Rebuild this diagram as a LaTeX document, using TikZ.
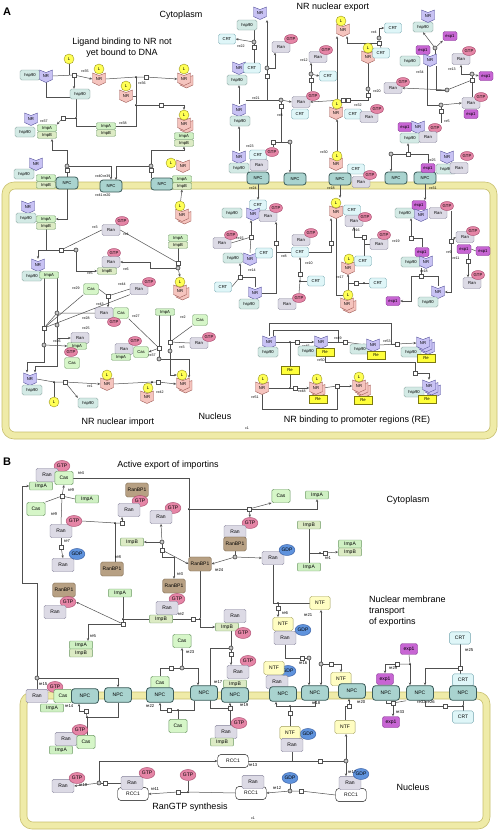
\documentclass[tikz,border=0pt]{standalone}
\usepackage{fontspec}
\setmainfont{Liberation Sans}
\usetikzlibrary{arrows.meta,shapes.geometric,calc}
\definecolor{hspF}{HTML}{D3EAE5}\definecolor{hspD}{HTML}{7E9C98}
\definecolor{ranF}{HTML}{DCDAE5}\definecolor{ranD}{HTML}{85839A}
\definecolor{gtpF}{HTML}{E585A6}\definecolor{gtpD}{HTML}{A8466A}
\definecolor{gdpF}{HTML}{5F93DD}\definecolor{gdpD}{HTML}{2F569E}
\definecolor{crtF}{HTML}{DFF6F8}\definecolor{crtD}{HTML}{6FA3AD}
\definecolor{impF}{HTML}{CFF0C3}\definecolor{impD}{HTML}{6E9A66}
\definecolor{impbF}{HTML}{DCEBC4}
\definecolor{casF}{HTML}{D6F6C8}\definecolor{casD}{HTML}{6E9A66}
\definecolor{npcF}{HTML}{A9D3CF}\definecolor{npcD}{HTML}{3C5C5A}
\definecolor{expF}{HTML}{C765D3}\definecolor{expD}{HTML}{7D2E8C}
\definecolor{ntfF}{HTML}{FFFDC2}\definecolor{ntfD}{HTML}{A09F5C}
\definecolor{rbpF}{HTML}{B7A083}\definecolor{rbpD}{HTML}{6F5A40}
\definecolor{reF}{HTML}{FFFF3A}\definecolor{reD}{HTML}{7D7A10}
\definecolor{ligF}{HTML}{FFFF55}\definecolor{ligD}{HTML}{9A9420}
\definecolor{nrlavF}{HTML}{C8C2F4}\definecolor{nrlavD}{HTML}{55529A}
\definecolor{nrpinkF}{HTML}{F5C4BE}\definecolor{nrpinkD}{HTML}{9E5A55}
\definecolor{memF}{HTML}{EFEBA8}\definecolor{memD}{HTML}{C8BF6C}
\definecolor{edC}{HTML}{505050}
\def\sfac{1}\def\nfs{4.2}\def\lfs{3.6}
\tikzset{
 sp/.style={draw, rounded corners=1.6pt, inner sep=0pt, line width=0.4pt, font=\fontsize{\nfs}{\nfs}\selectfont},
 hsp/.style={sp, fill=hspF, draw=hspD, minimum width=20pt*\sfac, minimum height=10pt*\sfac},
 ran/.style={sp, fill=ranF, draw=ranD, minimum width=18pt*\sfac, minimum height=11pt*\sfac},
 gtp/.style={sp, ellipse, fill=gtpF, draw=gtpD, minimum width=13pt*\sfac, minimum height=9pt*\sfac},
 gdp/.style={sp, ellipse, fill=gdpF, draw=gdpD, minimum width=13pt*\sfac, minimum height=9pt*\sfac},
 crt/.style={sp, fill=crtF, draw=crtD, minimum width=17pt*\sfac, minimum height=10pt*\sfac},
 imp/.style={sp, fill=impF, draw=impD, rounded corners=1pt, minimum width=19pt*\sfac, minimum height=6.5pt*\sfac},
 impb/.style={imp, fill=impbF},
 cas/.style={sp, fill=casF, draw=casD, minimum width=15pt*\sfac, minimum height=11pt*\sfac},
 npc/.style={sp, fill=npcF, draw=npcD, line width=0.8pt, rounded corners=3pt, minimum width=22pt*\sfac, minimum height=12pt*\sfac},
 exp/.style={sp, fill=expF, draw=expD, minimum width=14pt*\sfac, minimum height=9pt*\sfac},
 ntf/.style={sp, fill=ntfF, draw=ntfD, minimum width=16.5pt*\sfac, minimum height=11pt*\sfac},
 rcc/.style={sp, fill=white, draw=black, rounded corners=3pt, minimum width=25pt*\sfac, minimum height=10.5pt*\sfac},
 rbp/.style={sp, fill=rbpF, draw=rbpD, minimum width=18.5pt*\sfac, minimum height=11.5pt*\sfac},
 re/.style={sp, rounded corners=0pt, fill=reF, draw=reD, minimum width=18pt, minimum height=8pt},
 lig/.style={sp, circle, fill=ligF, draw=ligD, minimum size=10pt},
 nrt/.style={inner sep=0pt, minimum width=13pt, minimum height=12pt, font=\fontsize{\nfs}{\nfs}\selectfont},
 nrstyle/.style={fill=nr#1F, draw=nr#1D, line width=0.4pt},
 pb/.style={draw=edC, fill=white, minimum size=3.6pt, inner sep=0pt, line width=0.4pt},
 pc/.style={circle, draw=edC!80!black, fill=gray!45, minimum size=4pt, inner sep=0pt, line width=0.6pt},
 pd/.style={circle, fill=black, minimum size=2pt, inner sep=0pt},
 lab/.style={inner sep=0pt, font=\fontsize{\lfs}{\lfs}\selectfont},
 head/.style={inner sep=0pt, font=\fontsize{9}{11}\selectfont, align=center},
 ed/.style={draw=edC, line width=0.5pt},
 ar/.style={ed, -{Stealth[length=2.8pt,width=2.4pt]}},
}
\newcommand\NRs[4]{\filldraw[nrstyle=#4,shift={(#2,#3)}] (-6.5,-6)--(0,-3.5)--(6.5,-6)--(6.5,3.5)--(0,6.5)--(-6.5,3.5)--cycle; \node[nrt] (#1) at (#2,#3) {NR};}
\newcommand\NRd[4]{\filldraw[nrstyle=#4,shift={(#2+2.5,#3+2.5)}] (-6.5,-6)--(0,-3.5)--(6.5,-6)--(6.5,3.5)--(0,6.5)--(-6.5,3.5)--cycle; \NRs{#1}{#2}{#3}{#4}}
\newcommand\NRt[4]{\filldraw[nrstyle=#4,shift={(#2+5,#3+5)}] (-6.5,-6)--(0,-3.5)--(6.5,-6)--(6.5,3.5)--(0,6.5)--(-6.5,3.5)--cycle; \NRd{#1}{#2}{#3}{#4}}
\newcommand\lb[3]{\node[lab] (lb#1) at (#2) {#3};}
\pgfdeclarelayer{mem}\pgfdeclarelayer{bg}\pgfsetlayers{mem,bg,main}
\begin{document}
\begin{tikzpicture}[x=1pt,y=-1pt]
\useasboundingbox (0,0) rectangle (498,831);
\begin{pgfonlayer}{mem}
\fill[white] (0,0) rectangle (498,831);
\draw[memF, line width=7pt, rounded corners=9pt] (5.5,185.5) rectangle (493.5,435.5);
\draw[memD, line width=0.6pt, rounded corners=12pt] (2,182) rectangle (497,439);
\draw[memD, line width=0.6pt, rounded corners=6pt] (9,189) rectangle (490,432);
\draw[memF, line width=7pt, rounded corners=9pt] (23.5,695.5) rectangle (486.5,825.5);
\draw[memD, line width=0.6pt, rounded corners=12pt] (20,692) rectangle (490,829);
\draw[memD, line width=0.6pt, rounded corners=6pt] (27,699) rectangle (483,822);
\end{pgfonlayer}
% ---------------- headings
\node[font=\bfseries\fontsize{11}{11}\selectfont, inner sep=0pt] (tA) at (7,12) {A};
\node[head] (t1) at (181,15) {Cytoplasm};
\node[head] (t2) at (122,48) {Ligand binding to NR not\\yet bound to DNA};
\node[head] (t3) at (333,7) {NR nuclear export};
\node[head] (t4) at (215,416) {Nucleus};
\node[head] (t5) at (118,422) {NR nuclear import};
\node[head] (t6) at (357,420) {NR binding to promoter regions (RE)};
\node[lab] (t7) at (247,428) {c1};
\node[font=\bfseries\fontsize{11}{11}\selectfont, inner sep=0pt] (tB) at (7,462) {B};
\node[head] (t8) at (168,465) {Active export of importins};
\node[head] (t9) at (408,500) {Cytoplasm};
\node[head, align=left, anchor=north west] (t10) at (369,596) {Nuclear membrane\\transport\\of exportins};
\node[head] (t11) at (413,787) {Nucleus};
\node[head] (t12) at (190,807) {RanGTP synthesis};
\node[lab] (t13) at (253,818) {c1};
% ================= PANEL A cytoplasm left
\node[hsp] (a1h) at (30,75) {hsp90};
\NRs{a1n}{46}{76}{lav}
\node[lig] (a1l) at (69,59) {L};
\node[pb] (p35) at (74,75) {}; \lb{1}{85,71}{re35}
\node[hsp] (a2h) at (80,94) {hsp90};
\NRs{a2n}{99}{79}{pink} \node[lig] (a2l) at (99,69) {L};
\NRs{a3n}{126}{96}{pink} \node[lig] (a3l) at (126,86) {L};
\lb{2}{142,83}{re36}
\node[pd] (d36) at (136,77) {}; \node[pb] (p36) at (146,77) {};
\NRd{a4n}{184}{79}{pink} \node[lig] (a4l) at (184,69) {L};
\NRs{r1n}{31}{119}{lav}
\node[hsp] (r1h) at (25,132) {hsp90}; \node[imp] (r1a) at (47,128) {ImpA}; \node[impb] (r1b) at (47,135) {ImpB};
\lb{3}{44,121}{re37}
\node[pb] (p37) at (63,118) {}; \node[pd] (d37) at (76,118) {};
\node[imp] (r2a) at (106,126) {ImpA}; \node[impb] (r2b) at (106,133) {ImpB};
\lb{4}{123,123}{re38}
\node[pd] (d38) at (136,105) {}; \node[pb] (p38) at (161,105) {};
\NRd{r3n}{184}{124}{pink} \node[lig] (r3l) at (184,115) {L};
\node[imp] (r3a) at (184,136) {ImpA}; \node[impb] (r3b) at (184,143) {ImpB};
% membrane row A
\NRs{s1n}{36}{164}{lav}
\node[hsp] (s1h) at (24,174) {hsp90}; \node[imp] (s1a) at (46,178) {ImpA}; \node[impb] (s1b) at (46,185) {ImpB};
\node[npc] (npc1) at (67,183) {NPC};
\node[npc] (npc2) at (111,186) {NPC};
\lb{5}{103,176}{re40\,re39} \lb{6}{103,195}{re41\,re20}
\node[npc] (npc3) at (162,184) {NPC};
\NRs{s3n}{183}{166}{pink} \node[lig] (s3l) at (171,163) {L};
\node[imp] (s3a) at (182,179) {ImpA}; \node[impb] (s3b) at (182,186) {ImpB};
\node[pc] (c40) at (67,166) {}; \node[pb] (b40) at (67,170) {};
\node[pc] (c31) at (151,166) {}; \node[pb] (b31) at (151,170) {};
% ================= PANEL A cytoplasm right
\node[hsp] (e1h) at (247,25) {hsp90}; \NRs{e1n}{260}{13}{lav}
\node[crt] (e2c) at (227,39) {CRT}; \lb{7}{241,46}{re22}
\node[pc] (c22) at (254,42) {}; \node[pb] (b22) at (254,47) {};
\NRs{e3n}{239}{68}{lav} \node[crt] (e3c) at (252,68) {CRT}; \node[hsp] (e3h) at (237,80) {hsp90};
\NRs{e4n}{239}{110}{lav} \node[hsp] (e4h) at (240,121) {hsp90};
\node[ran] (e5r) at (281,47) {Ran}; \node[gtp] (e5g) at (291,39) {GTP};
\node[pc] (c21) at (267,68) {}; \node[pb] (b21) at (267,76) {};
\lb{8}{256,98}{re21}
\NRs{e6n}{239}{157}{lav} \node[hsp] (e6h) at (239,168) {hsp90};
\node[crt] (e6c) at (258,155) {CRT}; \node[ran] (e6r) at (259,165) {Ran}; \node[gtp] (e6g) at (272,152) {GTP};
\lb{9}{250,146}{re23}
\node[npc] (npc4) at (258,178) {NPC}; \lb{10}{253,188}{re24}
\node[npc] (npc5) at (295,179) {NPC};
\node[ran] (e7r) at (318,57) {Ran}; \node[gtp] (e7g) at (326,50) {GTP}; \lb{11}{304,60}{re12}
\node[pc] (c12) at (311,74) {}; \node[pb] (b12) at (311,80) {};
\node[crt] (e8c) at (328,76) {CRT};
\node[ran] (e9r) at (301,102) {Ran}; \node[gtp] (e9g) at (313,96) {GTP}; \node[crt] (e9c) at (300,114) {CRT};
\lb{12}{280,115}{re8} \node[pc] (c8) at (281,100) {}; \node[pb] (b8) at (281,106) {};
\node[pc] (c24b) at (290,142) {}; \node[pb] (b24b) at (273,142) {};
\NRs{e10n}{336}{113}{pink} \node[lig] (e10l) at (337,104) {L};
\node[crt] (e10c) at (353,114) {CRT}; \node[ran] (e10r) at (369,117) {Ran}; \node[gtp] (e10g) at (377,109) {GTP};
\lb{13}{358,105}{re32}
\node[pb] (b32) at (343,100) {}; \node[pb] (b32b) at (348,100) {};
\NRs{e11n}{343}{30}{pink} \node[lig] (e11l) at (341,21) {L};
\node[crt] (e12c) at (393,28) {CRT}; \lb{14}{374,32}{re4}
\node[pc] (c4) at (379,38) {}; \node[pb] (b4) at (379,43) {};
\NRs{e13n}{368}{57}{pink} \node[lig] (e13l) at (368,48) {L}; \node[crt] (e13c) at (381,53) {CRT};
\node[ran] (e14r) at (393,88) {Ran}; \node[gtp] (e14g) at (403,82) {GTP}; \lb{15}{377,91}{re20}
\node[pc] (c20) at (368,89) {}; \node[pb] (b20) at (368,95) {};
\NRs{e15n}{336}{164}{pink} \node[lig] (e15l) at (337,156) {L}; \node[crt] (e15c) at (356,169) {CRT};
\node[npc] (npc6) at (340,179) {NPC}; \node[ran] (e15r) at (361,182) {Ran}; \node[gtp] (e15g) at (370,175) {GTP};
\lb{16}{324,152}{re30} \lb{17}{331,188}{re18}
\node[hsp] (e16h) at (423,27) {hsp90}; \NRs{e16n}{428}{16}{lav}
\node[exp] (e17e) at (450,36) {exp1};
\node[pc] (c34) at (435,48) {};
\node[hsp] (e18h) at (410,61) {hsp90}; \node[exp] (e18e) at (423,50) {exp1}; \NRs{e18n}{430}{60}{lav}
\lb{18}{420,72}{re34}
\node[ran] (e19r) at (461,59) {Ran}; \node[gtp] (e19g) at (469,51) {GTP}; \lb{19}{452,69}{re13}
\node[exp] (e20e) at (486,76) {exp1};
\node[pc] (c13) at (472,74) {}; \node[pb] (b13) at (472,80) {};
\node[ran] (e21r) at (471,103) {Ran}; \node[gtp] (e21g) at (481,97) {GTP}; \node[exp] (e21e) at (471,114) {exp1};
\node[pc] (c5a) at (447,90) {}; \node[pc] (c5) at (441,105) {}; \node[pb] (b5) at (441,111) {}; \lb{20}{447,121}{re5}
\node[exp] (e22e) at (405,127) {exp1}; \NRs{e22n}{418}{127}{lav} \node[gtp] (e22g) at (435,128) {GTP};
\node[hsp] (e22h) at (410,138) {hsp90}; \node[ran] (e22r) at (428,137) {Ran};
\node[pc] (c25) at (391,154) {}; \node[pb] (b25) at (408,154) {};
\node[npc] (npc7) at (396,178) {NPC}; \node[npc] (npc8) at (425,178) {NPC};
\NRs{e23n}{447}{157}{lav} \node[gtp] (e23g) at (467,156) {GTP};
\node[exp] (e23e) at (428,168) {exp1}; \node[hsp] (e23h) at (446,169) {hsp90}; \node[ran] (e23r) at (459,168) {Ran};
\lb{21}{432,160}{re25} \lb{22}{433,188}{re31}
% ================= PANEL A nucleus left
\NRs{f1n}{28}{207}{lav} \node[hsp] (f1h) at (26,218) {hsp90}; \node[imp] (f1a) at (46,219) {ImpA}; \node[impb] (f1b) at (46,226) {ImpB};
\NRd{f2n}{182}{215}{pink} \node[lig] (f2l) at (180,206) {L};
\node[ran] (f3r) at (111,230) {Ran}; \node[gtp] (f3g) at (122,221) {GTP}; \lb{23}{95,227}{re3} \lb{24}{126,234}{re4}
\node[pb] (bx3) at (61,250) {}; \node[pc] (cx3) at (76,250) {};
\node[imp] (f4a) at (178,238) {ImpA}; \node[impb] (f4b) at (178,245) {ImpB};
\node[gtp] (f5g) at (114,253) {GTP}; \node[ran] (f5r) at (111,262) {Ran}; \node[impb] (f5b) at (107,271) {ImpB};
\lb{25}{90,273}{re5} \lb{26}{126,269}{re6}
\node[pb] (bx4) at (178,263) {}; \node[pc] (cx4) at (178,268) {};
\NRd{f6n}{180}{291}{pink} \node[lig] (f6l) at (180,282) {L};
\NRs{f7n}{38}{265}{lav} \node[hsp] (f7h) at (32,276) {hsp90}; \node[imp] (f7a) at (49,275) {ImpA};
\lb{27}{76,288}{re29} \node[cas] (f8c) at (91,289) {Cas};
\node[ran] (f9r) at (139,289) {Ran}; \node[gtp] (f9g) at (149,282) {GTP}; \lb{28}{122,284}{re44}
\node[pb] (b43) at (108,296) {}; \lb{29}{100,304}{re43}
\node[ran] (f10r) at (104,313) {Ran}; \node[cas] (f10c) at (121,313) {Cas}; \node[gtp] (f10g) at (114,322) {GTP};
\lb{30}{86,318}{re28} \lb{31}{136,316}{re27}
\node[pc] (c28) at (57,313) {}; \node[pb] (b28) at (44,328) {}; \node[pc] (c25n) at (57,325) {}; \lb{32}{86,328}{re25}
\node[ran] (f11r) at (80,338) {Ran}; \node[imp] (f11a) at (77,346) {ImpA}; \node[gtp] (f11g) at (71,352) {GTP}; \node[cas] (f11c) at (72,363) {Cas};
\lb{33}{57,341}{re26}
\node[pc] (c26) at (44,345) {};
\node[imp] (f12a) at (165,312) {ImpA}; \lb{34}{183,317}{re2} \node[cas] (f13c) at (200,320) {Cas};
\node[ran] (f14r) at (199,343) {Ran}; \node[gtp] (f14g) at (209,337) {GTP}; \lb{35}{182,347}{re3}
\node[pb] (bx2) at (170,342) {}; \node[pc] (cx2) at (170,351) {};
\node[ran] (f15r) at (124,349) {Ran}; \node[gtp] (f15g) at (135,341) {GTP}; \node[cas] (f15c) at (141,352) {Cas}; \node[imp] (f15a) at (121,357) {ImpA};
\node[pb] (b27) at (159,348) {}; \node[pc] (c27) at (159,359) {}; \lb{36}{152,355}{re37}
\NRs{f16n}{30}{379}{lav} \node[hsp] (f16h) at (32,390) {hsp90};
\node[lig] (f17l) at (54,402) {L}; \node[hsp] (f18h) at (88,403) {hsp90};
\node[pd] (d1) at (54,382) {}; \node[pb] (bx1) at (65,382) {}; \lb{37}{90,386}{re1}
\NRs{f19n}{107}{384}{pink} \node[lig] (f19l) at (107,375) {L};
\node[pd] (d42) at (152,382) {}; \node[pb] (b42) at (158,382) {};
\NRs{f20n}{147}{397}{pink} \node[lig] (f20l) at (148,388) {L}; \lb{38}{160,392}{re42}
\NRd{f21n}{183}{384}{pink} \node[lig] (f21l) at (182,375) {L};
% ================= PANEL A nucleus right
\node[hsp] (g1h) at (232,213) {hsp90}; \node[crt] (g1c) at (258,205) {CRT}; \NRs{g1n}{253}{214}{lav}
\node[ran] (g1r) at (268,216) {Ran}; \node[gtp] (g1g) at (276,208) {GTP};
\node[ran] (g2r) at (222,243) {Ran}; \node[gtp] (g2g) at (231,235) {GTP}; \lb{39}{240,238}{re15}
\node[pb] (b15) at (251,237) {};
\node[hsp] (g3h) at (233,258) {hsp90}; \NRs{g3n}{250}{259}{lav} \node[crt] (g3c) at (264,253) {CRT}; \lb{40}{252,270}{re14}
\node[crt] (g4c) at (223,287) {CRT}; \node[pb] (b14) at (240,277) {};
\NRs{g5n}{255}{293}{lav} \node[hsp] (g5h) at (249,304) {hsp90};
\node[pb] (b9) at (276,243) {};
\node[ran] (g6r) at (301,240) {Ran}; \node[gtp] (g6g) at (311,233) {GTP}; \node[crt] (g6c) at (300,252) {CRT}; \lb{41}{284,256}{re8}
\lb{42}{309,263}{re10} \node[pb] (b10) at (300,274) {}; \node[pd] (d10) at (300,281) {}; \node[crt] (g7c) at (316,281) {CRT};
\node[ran] (g8r) at (287,304) {Ran}; \node[gtp] (g8g) at (299,298) {GTP};
\NRs{g9n}{336}{212}{pink} \node[lig] (g9l) at (336,203) {L}; \node[crt] (g9c) at (352,210) {CRT};
\node[ran] (g9r) at (354,221) {Ran}; \node[gtp] (g9g) at (365,217) {GTP};
\node[pb] (b30) at (331,243) {};
\lb{43}{356,230}{re16} \node[pb] (b16) at (364,237) {};
\node[ran] (g10r) at (379,244) {Ran}; \node[gtp] (g10g) at (384,235) {GTP}; \lb{44}{396,241}{re19}
\NRs{g11n}{348}{268}{pink} \node[lig] (g11l) at (349,259) {L}; \node[crt] (g11c) at (363,261) {CRT}; \lb{45}{340,277}{re17}
\node[pb] (b17) at (356,283) {}; \node[pd] (d17) at (364,283) {}; \node[crt] (g12c) at (378,283) {CRT};
\NRd{g13n}{347}{304}{pink} \node[lig] (g13l) at (348,295) {L};
\node[hsp] (g14h) at (405,213) {hsp90}; \node[exp] (g14e) at (419,205) {exp1}; \NRs{g14n}{421}{215}{lav}
\node[ran] (g14r) at (438,213) {Ran}; \node[gtp] (g14g) at (447,206) {GTP};
\node[pb] (b18a) at (411,238) {};
\node[hsp] (g15h) at (411,262) {hsp90}; \node[exp] (g15e) at (422,252) {exp1}; \NRs{g15n}{426}{262}{lav} \lb{46}{424,271}{re18}
\node[pb] (b18) at (421,276) {};
\NRs{g16n}{438}{292}{lav} \node[hsp] (g16h) at (428,302) {hsp90};
\node[exp] (g17e) at (393,301) {exp1};
\node[ran] (g18r) at (465,237) {Ran}; \node[gtp] (g18g) at (473,231) {GTP}; \node[exp] (g18e) at (464,249) {exp1}; \node[exp] (g19e) at (483,251) {exp1};
\lb{47}{449,252}{re9} \lb{48}{456,258}{re11}
\node[pb] (b9r) at (451,241) {}; \node[pb] (b11) at (468,261) {};
\node[ran] (g20r) at (472,283) {Ran}; \node[gtp] (g20g) at (478,275) {GTP};
% RE section
\NRs{h1n}{269}{342}{lav} \node[hsp] (h1h) at (268,352) {hsp90};
\node[pd] (d45) at (290,342) {}; \node[pb] (b45) at (297,342) {}; \lb{49}{306,346}{re45}
\node[hsp] (h2h) at (308,351) {hsp90}; \NRs{h2n}{321}{342}{lav} \node[re] (h2e) at (325,352) {Re};
\lb{50}{338,338}{re49} \lb{51}{321,360}{re50}
\node[pb] (b49) at (345,342) {};
\node[hsp] (h3h) at (360,349) {hsp90}; \NRs{h3n}{373}{345}{lav} \node[re] (h3e) at (376,355) {Re}; \lb{52}{387,341}{re53}
\node[pb] (b53) at (397,344) {};
\node[hsp] (h4h) at (411,352) {hsp90}; \NRt{h4n}{423}{343}{lav} \node[re] (h4e) at (426,358) {Re};
\node[re] (h5e) at (290,370) {Re};
\node[pb] (b50) at (415,373) {};
\node[hsp] (h6h) at (414,392) {hsp90}; \NRt{h6n}{429}{386}{lav} \node[re] (h6e) at (427,399) {Re};
\NRs{h7n}{262}{388}{pink} \node[lig] (h7l) at (263,379) {L}; \lb{53}{255,397}{re51}
\node[pd] (d48) at (290,388) {}; \node[pb] (b48) at (295,388) {}; \lb{54}{302,391}{re48}
\NRd{h8n}{316}{388}{pink} \node[lig] (h8l) at (317,379) {L}; \node[re] (h8e) at (318,399) {Re};
\node[pb] (b52) at (337,386) {};
\NRt{h9n}{359}{386}{pink} \node[lig] (h9l) at (359,377) {L}; \node[re] (h9e) at (363,400) {Re};
% ================= PANEL B
\def\sfac{1.22}\def\nfs{5}\def\lfs{4.2}
\node[gtp] (k1g) at (62,466) {GTP}; \node[ran] (k1r) at (47,475) {Ran}; \node[cas] (k1c) at (64,478) {Cas}; \node[imp] (k1a) at (41,486) {ImpA};
\lb{55}{81,473}{re4}
\node[pb] (b9b) at (62,496) {}; \lb{56}{71,490}{re9}
\node[imp] (k2a) at (87,499) {ImpA}; \node[cas] (k3c) at (36,509) {Cas}; \lb{57}{54,514}{re9}
\node[ran] (k4r) at (61,531) {Ran}; \node[gtp] (k4g) at (74,521) {GTP}; \lb{58}{67,541}{re7} \node[pb] (b7) at (61,547) {};
\node[ran] (k5r) at (63,565) {Ran}; \node[gdp] (k5g) at (77,554) {GDP};
\node[rbp] (k6b) at (137,490) {RanBP1}; \node[gtp] (k6g) at (140,501) {GTP}; \node[ran] (k6r) at (129,510) {Ran};
\node[pd] (d8) at (115,523) {}; \node[pb] (b8b) at (122,523) {}; \lb{59}{118,557}{re8}
\node[rbp] (k7b) at (112,569) {RanBP1};
\node[gtp] (k8g) at (173,508) {GTP}; \node[ran] (k8r) at (161,517) {Ran};
\node[pc] (c3b) at (162,542) {}; \node[pb] (b3b) at (162,550) {};
\node[impb] (k9b) at (132,542) {ImpB};
\node[rbp] (k10b) at (200,564) {RanBP1}; \lb{60}{219,570}{re24}
\node[gtp] (k11g) at (250,523) {GTP}; \node[ran] (k11r) at (235,532) {Ran}; \node[rbp] (k11b) at (235,544) {RanBP1};
\node[pc] (c24) at (235,557) {};
\node[ran] (k12r) at (273,558) {Ran}; \node[gdp] (k12g) at (287,550) {GDP};
\node[pd] (d4) at (189,509) {}; \node[pb] (b4b) at (249,509) {};
\node[cas] (k13c) at (281,496) {Cas}; \node[imp] (k13a) at (317,495) {ImpA};
\node[impb] (k14b) at (309,525) {ImpB}; \node[imp] (k15a) at (350,544) {ImpA}; \node[impb] (k15b) at (350,552) {ImpB}; \node[imp] (k16a) at (309,567) {ImpA};
\node[pd] (d1b) at (320,553) {}; \node[pb] (b1b) at (325,553) {}; \lb{61}{328,558}{re1}
\lb{62}{180,574}{re3}
\node[rbp] (k17b) at (174,586) {RanBP1}; \node[gtp] (k17g) at (177,599) {GTP}; \node[ran] (k17r) at (167,608) {Ran}; \node[impb] (k17i) at (161,619) {ImpB};
\lb{63}{181,614}{re2}
\node[rbp] (k18b) at (64,590) {RanBP1}; \node[gtp] (k18g) at (68,602) {GTP}; \node[ran] (k18r) at (55,612) {Ran};
\node[imp] (k19a) at (120,593) {ImpA};
\node[pd] (d5) at (123,619) {}; \node[pb] (b5b) at (123,624) {};
\node[imp] (k20a) at (81,645) {ImpA}; \node[impb] (k20b) at (81,653) {ImpB}; \lb{64}{93,636}{re5}
\node[pb] (b2b) at (193,619) {}; \node[pd] (d2) at (200,619) {};
\node[ran] (k21r) at (235,616) {Ran}; \node[impb] (k21i) at (227,627) {ImpB}; \node[gtp] (k21g) at (243,633) {GTP};
\node[pc] (c17) at (231,648) {}; \node[pb] (b17b) at (231,654) {};
\node[cas] (k22c) at (182,641) {Cas}; \lb{65}{190,652}{re23} \node[pc] (c23) at (182,668) {}; \node[pb] (b23) at (171,668) {};
\node[gtp] (k23g) at (248,661) {GTP}; \node[ran] (k23r) at (238,672) {Ran}; \node[impb] (k23i) at (235,684) {ImpB};
\node[npc] (npcB5) at (235,695) {NPC}; \lb{66}{218,682}{re17} \lb{67}{244,705}{re19}
\node[pb] (b19) at (230,708) {};
\node[ran] (k24r) at (226,732) {Ran}; \node[gtp] (k24g) at (239,723) {GTP}; \node[impb] (k24i) at (222,742) {ImpB};
\node[cas] (k25c) at (160,683) {Cas}; \node[npc] (npcB3) at (160,695) {NPC}; \lb{68}{150,706}{re22}
\node[pb] (b22b) at (169,710) {}; \node[pd] (d22) at (178,710) {}; \node[cas] (k26c) at (178,726) {Cas};
\node[npc] (npcB4) at (204,693) {NPC};
\node[ran] (k27r) at (37,696) {Ran}; \node[gtp] (k27g) at (55,687) {GTP}; \node[cas] (k27c) at (63,696) {Cas}; \node[imp] (k27a) at (52,708) {ImpA};
\node[npc] (npcB1) at (85,696) {NPC}; \lb{69}{43,684}{re15} \lb{70}{69,706}{re14}
\node[pc] (c15) at (37,678) {};
\node[npc] (npcB2) at (118,695) {NPC};
\node[pb] (b14b) at (86,711) {}; \node[pd] (d14) at (87,717) {};
\node[ran] (k28r) at (66,739) {Ran}; \node[gtp] (k28g) at (80,730) {GTP}; \node[cas] (k28c) at (86,742) {Cas}; \node[imp] (k28a) at (61,750) {ImpA};
% RCC1
\node[rcc] (m1) at (233,761) {RCC1};
\node[pc] (c10) at (99,783) {}; \node[pb] (b10b) at (105,783) {}; \lb{71}{83,785}{re10}
\node[ran] (m2r) at (63,786) {Ran}; \node[gtp] (m2g) at (77,778) {GTP};
\node[rcc] (m3c) at (133,794) {RCC1}; \node[ran] (m3r) at (132,783) {Ran}; \node[gtp] (m3g) at (147,773) {GTP}; \lb{72}{155,789}{re11}
\node[pb] (b11b) at (178,792) {}; \node[pd] (d11) at (188,792) {}; \node[gtp] (m4g) at (188,775) {GTP};
\node[rcc] (m5c) at (251,793) {RCC1}; \node[ran] (m5r) at (253,782) {Ran};
\lb{73}{253,765}{re13} \node[pb] (b13b) at (320,761) {}; \node[pc] (c13b) at (346,761) {};
\node[gdp] (m6g) at (290,778) {GDP}; \node[pc] (c12b) at (290,791) {}; \node[pb] (b12b) at (301,791) {}; \lb{74}{277,788}{re12}
\node[rcc] (m7c) at (351,795) {RCC1}; \node[ran] (m7r) at (350,783) {Ran}; \node[gdp] (m7g) at (361,774) {GDP}; \lb{75}{352,772}{re17}
% NTF
\node[gdp] (n1g) at (303,630) {GDP}; \node[ntf] (n1) at (283,624) {NTF}; \node[ran] (n1r) at (285,638) {Ran};
\node[pd] (d6) at (278,603) {}; \node[pb] (b6) at (278,608) {}; \lb{76}{285,613}{re6}
\node[ntf] (n2) at (320,603) {NTF}; \lb{77}{308,615}{re21}
\node[pb] (b16b) at (302,658) {}; \node[pc] (c16) at (309,658) {}; \lb{78}{303,663}{re16}
\node[gdp] (n3g) at (288,671) {GDP}; \node[ntf] (n3) at (274,668) {NTF}; \node[ran] (n3r) at (277,682) {Ran};
\node[npc] (npcB6) at (283,694) {NPC};
\node[pc] (c21b) at (321,664) {}; \node[pb] (b21b) at (331,664) {};
\node[npc] (npcB7) at (315,693) {NPC}; \lb{79}{316,703}{re18}
\node[ntf] (n4) at (341,679) {NTF}; \node[npc] (npcB8) at (352,691) {NPC}; \lb{80}{361,702}{re20}
\node[pb] (b20b) at (349,706) {};
\node[pd] (d18) at (290,706) {}; \node[pb] (b18b) at (290,713) {};
\node[gdp] (n5g) at (308,734) {GDP}; \node[ntf] (n5) at (290,733) {NTF}; \node[ran] (n5r) at (292,745) {Ran};
\node[ntf] (n6) at (345,727) {NTF};
% exp1 / CRT
\node[exp] (q1) at (409,649) {exp1}; \node[pd] (d29) at (410,664) {}; \node[pb] (b29) at (397,664) {}; \lb{81}{393,668}{re29}
\node[exp] (q2) at (385,679) {exp1}; \node[npc] (npcB9) at (386,693) {NPC};
\node[npc] (npcB10) at (420,693) {NPC}; \lb{82}{426,702}{re32\,re26}
\node[pb] (b33) at (393,703) {}; \node[exp] (q3) at (391,722) {exp1}; \lb{83}{400,712}{re33}
\node[crt] (q4) at (460,638) {CRT}; \lb{84}{469,650}{re25} \node[pb] (b25b) at (460,668) {};
\node[crt] (q5) at (463,680) {CRT}; \node[npc] (npcB11) at (463,693) {NPC};
\node[pd] (d26) at (463,706) {}; \node[pb] (b26) at (445,706) {}; \node[crt] (q6) at (463,717) {CRT};
% ================= CONNECTORS
\begin{pgfonlayer}{bg}
% A cytoplasm left
\draw[ed] (a1n.east) -- (p35);
\draw[ed] (a1l) -- (a1l |- p35);
\draw[ar] (p35) -- (a2n.west);
\draw[ar] (p35) -- (p35 |- a2h.north);
\draw[ed] (a2n.east) -- (d36) -- (p36);
\draw[ar] (p36) -- (a4n.west);
\draw[ed] (a3n.east) -| (d38);
\draw[ed] (d36) -- (d38) |- (r2a.east);
\draw[ed] (d38) -- (p38);
\draw[ar] (p38) -| (r3l.north);
\draw[ed] (a1n.south) |- (76,97) -- (d37) |- (r2a.west);
\draw[ed] (d37) -- (p37);
\draw[ar] (p37) -- (r1a.north east);
\draw[ar] (c40) |- (52,150) -- (52,139);
\draw[ed] (c40) -- (b40) -- (b40 |- npc1.north);
\draw[ar] (c40) -| (npc2.north);
\draw[ar] (c31) |- (184,150) -- (r3b.south);
\draw[ed] (c31) -- (b31) -- (b31 |- npc3.north);
\draw[ar] (c31) -| (116,180);
\draw[ar] (f2l) -- (s3b.south);
\draw[ar] (npc1.south) |- (f1a.east);
% A cytoplasm right
\draw[ed] (c22 |- e1h.south) -- (c22) -- (b22) -- (b22 |- e3c.north);
\draw[ar] (c22) -- (e2c.east);
\draw[ar] (c21) -- (267,20);
\draw[ar] (c21) -| (275,52.5);
\draw[ed] (c21) -- (b21) |- (c8);
\draw[ed] (e4n.east |- c8) -- (c8);
\draw[ar] (c8) -- (e9r.west);
\draw[ed] (c8) -- (b8) |- (c24b);
\draw[ar] (c24b) -- (c24b |- npc5.north);
\draw[ed] (c24b) -- (b24b) -- (b24b |- e6g.north);
\draw[ar] (e4n.north) -- (e4n.north |- e3h.south);
\draw[ar] (e6n.north) -- (e6n.north |- e4h.south);
\draw[ar] (e10l.north) -- (e10l.north |- e11n.south);
\draw[ar] (e15l.north) -- (e15l.north |- e10n.south);
\draw[ar] (b32) -- (e9r.east);
\draw[ed] (b32b) -| (b20);
\draw[ed] (b20) -- (c20) -- (c20 |- e13n.south);
\draw[ar] (c5a) -- (e14r.east);
\draw[ed] (e13c.north) -- (b4) -- (c4);
\draw[ar] (c4) |- (e12c.west);
\draw[ar] (b4) -| ($(e11n.south)+(4,0)$);
\draw[ar] (c12) -- (c12 |- e7r.south);
\draw[ar] (c12) -- (e8c.west);
\draw[ed] (c12) -- (b12) -- (b12 |- e9g.north);
\draw[ar] (c34) -- (e16h.south);
\draw[ar] (c34) -- (e17e.south west);
\draw[ed] (c34) -- (c34 |- e18n.north);
\draw[ed] ($(e18n.south)+(6,0)$) |- (c5a);
\draw[ed] ($(e18n.south)+(-3,0)$) |- (c5);
\draw[ar] (c5) -- (e21r.west);
\draw[ed] (c5) -- (b5) -- (b5 |- e22g.north);
\draw[ed] (c13) -- (b13) -- (b13 |- e21r.north);
\draw[ar] (c13) -| (e19r.south);
\draw[ar] (c13) -- (e20e.west);
\draw[ed] (c5a) -- (b13);
\draw[ar] (b25) -- (b25 |- e22h.south);
\draw[ed] (c25) -- (b25) -| (e23e.north);
\draw[ar] (c25) -- (c25 |- npc7.north);
\draw[ar] (npc8.south) -- (npc8.south |- g14e.north);
\draw[ar] (npc6.south) -- (npc6.south |- g9l.north);
\draw[ar] (npc4.south) -- (npc4.south |- g1c.north);
% A nucleus left
\draw[ed] (f1b.south) |- (cx3);
\draw[ar] (f1b.south |- bx3) -| (f7n.north);
\draw[ed] (bx3) -- (f3r.west);
\draw[ar] (cx3) |- (f5b.west);
\draw[ed] (f3r.east) -- (bx4);
\draw[ed] (f4b.south) -- (bx4) -- (cx4);
\draw[ar] (cx4) -- (f6l.north);
\draw[ar] (cx4) -- (150,268) |- (f5r.east);
\draw[ed] (f8c.east) -- (b43);
\draw[ed] (f9r.west) -- (b43);
\draw[ar] (b43) -- (b43 |- f10r.north);
\draw[ed] (b28) -- (f8c.south west);
\draw[ed] (b28) -- (f9r.south west);
\draw[ed] (b28) -- (c28) -- (f10r.west);
\draw[ed] (f7a.south -| b28) -- (b28) -- (c26);
\draw[ar] (c26) -- (f11a.west);
\draw[ar] (c26) |- (27,362) -- (27,372.5);
\draw[ed] (f7a.south -| c28) -- (c28) -- (c25n);
\draw[ar] (c25n) |- (f11r.west);
\draw[ar] (c25n) |- (35,366) -- (35,372.5);
\draw[ed] (f12a.south -| b27) -- (b27);
\draw[ed] (f12a.south -| bx2) -- (bx2);
\draw[ed] (f13c.south west) -- (bx2);
\draw[ed] (f14r.west) -- (bx2);
\draw[ed] (bx2) -- (cx2);
\draw[ar] (cx2) |- (f21l.west);
\draw[ed] (f10c.south east) -- (b27);
\draw[ar] (b27) -- (f15c.east);
\draw[ed] (b27) -- (c27);
\draw[ar] (c27) -| ($(f21n.north)+(6,0)$);
\draw[ed] (f16n.east) -- (d1) -- (bx1);
\draw[ed] (f17l) -- (d1);
\draw[ar] (bx1) -- (f19n.west);
\draw[ar] (bx1) -- (f18h.north west);
\draw[ed] (f19n.east) -- (d42) -- (b42);
\draw[ar] (b42) -- (f21n.west);
\draw[ed] (f20l) -- (d42);
% A nucleus right
\draw[ed] (g3n.north) -- (b15);
\draw[ar] (b15) -- (b15 |- g1n.south);
\draw[ed] (g2r.east) -- (b15);
\draw[ar] (b14) -- (b14 |- g3h.south);
\draw[ed] (g4c.east) -- (b14);
\draw[ed] (b14) -| (g5n.north);
\draw[ed] (g5n.east) -| (b9);
\draw[ar] (b9) -- (b9 |- g1r.south);
\draw[ed] (b30) |- (g6c.east);
\draw[ar] (b30) -- (b30 |- g9n.south);
\draw[ed] (g6c.west) -- (g6c.west -| b9);
\draw[ed] (g8g.north) -- (d10) -- (b10);
\draw[ar] (b10) -- (b10 |- g6c.south);
\draw[ed] (d10) -- (g7c.west);
\draw[ar] (b16) -| (g9r.south);
\draw[ed] (b16) |- (g10r.west);
\draw[ed] (b16) -- (b16 |- g11c.north);
\draw[ed] (g9n.south) -- (g9n.south |- g13l.west) -- (g13l.west);
\draw[ar] (g13l.north) -- (g11n.south);
\draw[ed] (g13l.north |- b17) -- (b17) -- (d17) -- (g12c.west);
\draw[ar] (b18a) -- (b18a |- g14h.south);
\draw[ed] (b18a) -| (g15e.north);
\draw[ed] (b18.north) -- (b18.north |- g15n.south);
\draw[ar] (b18) -| (411,301) -- (g17e.east);
\draw[ed] (g16n.north) |- (b18.east);
\draw[ed] (g14g.south -| b9r) -- (b9r);
\draw[ar] (b9r) |- (g16n.east);
\draw[ar] (b9r) -- (g18r.west);
\draw[ed] (g18e.east) -- (g19e.west);
\draw[ed] (b11 |- g18e.south) -- (b11);
\draw[ar] (b11) -- (b11 |- g20r.north);
% RE
\draw[ed] (h1n.east) -- (d45) -- (b45);
\draw[ar] (b45) -- (h2n.west);
\draw[ed] (h5e.north) -- (d45);
\draw[ed] (h5e.south) -- (d48);
\draw[ed] (h2n.east) -- (b49);
\draw[ar] (b49) -- (h3n.west);
\draw[ed] (h3n.east) -- (b53);
\draw[ar] (b53) -- (h4n.west);
\draw[ed] (h1n.north) |- (391,323) -- (391,344) -- (b53);
\draw[ed] ($(h1n.north)+(4,0)$) |- (338,330) -- (338,342) -- (b49);
\draw[ed] (h2e.south) |- (415,362) -- (b50);
\draw[ar] (b50) -| (h6n.north);
\draw[ed] (h7n.east) -- (d48) -- (b48);
\draw[ar] (b48) -- (h8n.west);
\draw[ed] (h8n.east) -- (b52);
\draw[ar] (b52) -- (h9n.west);
\draw[ed] (h7n.south) |- (337,409) -- (b52);
% B top
\draw[ed] (k1c.east) -| (d4);
\draw[ed] (d4) -- (d4 |- k10b.north);
\draw[ed] (d4) -- (b4b);
\draw[ar] (b4b) -| (k13a.south);
\draw[ar] (b4b) -- (k13c.south west);
\draw[ar] (b4b) -- (k11g.north);
\draw[ar] (c15) |- (22,583) |- (k1a.west);
\draw[ar] (c15) -| (npcB2.north);
\draw[ed] (c15) -- (k27r.north);
\draw[ed] (k3c.north east) -- (b9b);
\draw[ed] (k2a.west) -- (b9b);
\draw[ar] (b9b) -- (k1c.south);
\draw[ed] (b9b) -- (k4r.north);
\draw[ed] (k4g.east) -- (d8) -- (b8b);
\draw[ar] (b8b) -- (b8b |- k6r.south);
\draw[ed] (k7b.north -| d8) -- (d8);
\draw[ed] (k4r.south) -- (b7);
\draw[ar] (b7) -- (k5r.north);
\draw[ar] (c3b) -- (k8r.south);
\draw[ar] (c3b) -- (k9b.east);
\draw[ed] (c3b) -- (b3b);
\draw[ar] (b3b) -- (k10b.west);
\draw[ar] (b3b) |- (174,557) -- (k17b.north);
\draw[ed] (k11b.south) -- (c24);
\draw[ar] (c24) -- (k10b.east);
\draw[ar] (c24) -- (k12r.west);
\draw[ed] (k12r.south) |- (d6);
\draw[ed] (d6) -- (b6);
\draw[ar] (b6) -- (b6 |- n1.north);
\draw[ed] (d6) -- (n2.west);
\draw[ed] (k10b.south -| d2) -- (d2);
\draw[ed] (k17i.east) -- (b2b) -- (d2);
\draw[ar] (d2) |- (k21i.west);
\draw[ed] (k19a.south -| d5) -- (d5);
\draw[ed] (k17i.west) -- (d5) -- (b5b);
\draw[ar] (b5b) -- (k18g.east);
\draw[ar] (b5b) -| ($(k20a.north)+(7,0)$);
\draw[ed] (k14b.south) |- (d1b);
\draw[ed] (k16a.north) |- (d1b);
\draw[ed] (d1b) -- (b1b);
\draw[ar] (b1b) -- (k15b.west);
\draw[ed] (k21i.south -| c17) -- (c17) -- (b17b);
\draw[ar] (b17b) -- (b17b |- k23r.north);
\draw[ed] (c17) -| (210,708) -- (b19);
\draw[ar] (b19) -- (b19 |- npcB5.south);
\draw[ed] (b19) -- (b19 |- k24r.north);
\draw[ar] (c23) -- (c23 |- k22c.south);
\draw[ed] (c23) -- (b23) -| (k25c.north);
\draw[ar] (c23) -| ($(npcB4.north)+(-6,0)$);
\draw[ar] (b22b) -| (npcB3.south);
\draw[ed] (b22b) -- (d22) -- (d22 |- k26c.north);
\draw[ed] (d22) -| ($(npcB4.south)+(-10,0)$);
\draw[ar] (b14b) -| ($(npcB1.south)+(-6,0)$);
\draw[ed] (b14b) -- (d14);
\draw[ed] (d14) -| (npcB2.south);
\draw[ed] (d14) -- (d14 |- k28c.north);
% RCC1
\draw[ar] (c10) |- (m1.west);
\draw[ar] (c10) -- (m2r.east);
\draw[ed] (c10) -- (b10b) -- (m3r.west);
\draw[ed] (m4g.south) -- (d11) -- (b11b);
\draw[ar] (b11b) -- (m3c.east);
\draw[ed] (d11) -- (m5c.west);
\draw[ed] (m1.east) -- (b13b) -- (c13b);
\draw[ar] (c13b) -- (c13b |- n6.south);
\draw[ar] (c13b) -- (c13b |- m7r.north);
\draw[ed] (n5r.south) -- (n5r.south |- m1.east);
\draw[ed] (m6g.south) -- (c12b);
\draw[ar] (c12b) -- (m5c.east);
\draw[ed] (c12b) -- (b12b) -- (m7c.west);
% NTF
\draw[ar] (c21b) -- (c21b |- n2.south);
\draw[ar] (c21b) -- (c21b |- npcB7.north);
\draw[ed] (c21b) -- (b21b);
\draw[ar] (b21b) -| (n4.north);
\draw[ed] (n1r.south) |- (b16b);
\draw[ed] (b16b) -- (c16);
\draw[ar] (c16) -- (c16 |- npcB7.north);
\draw[ed] (n5.north) -- (b18b) -- (d18);
\draw[ar] (d18) -| ($(npcB6.south)+(-7,0)$);
\draw[ed] (d18) -| (npcB7.south);
\draw[ed] (n6.north) -- (n6.north |- b20b) -- (b20b);
\draw[ar] (b20b) -- (b20b |- npcB8.south);
% exp1 / CRT
\draw[ed] (q1.south) -- (d29) -- (b29);
\draw[ar] (b29) -| (q2.north);
\draw[ar] (d29) -- (d29 |- npcB10.north);
\draw[ar] (b25b) -| ($(npcB10.north)+(5,0)$);
\draw[ed] (q4.south) -- (b25b) -- (b25b |- q5.north);
\draw[ed] (npcB10.south west) -- (b33);
\draw[ed] (npcB9.south) |- (b33);
\draw[ar] (b33) -- (b33 |- q3.north);
\draw[ed] (npcB11.south) -- (d26) -- (q6.north);
\draw[ed] (d26) -- (b26) -| ($(npcB10.south)+(5,0)$);
\end{pgfonlayer}
\end{tikzpicture}
\end{document}
